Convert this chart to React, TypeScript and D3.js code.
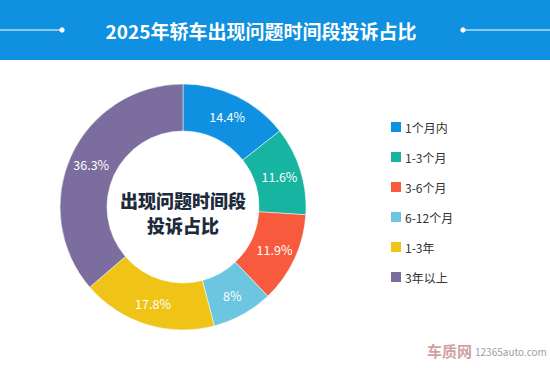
import { useEffect, useRef } from "react"
import * as d3 from "d3"

const categories = ["1个月内", "1-3个月", "3-6个月", "6-12个月", "1-3年", "3年以上"]
const values = [14.4, 11.6, 11.9, 8, 17.8, 36.3]
const colors = ["#0f90e0", "#16b4a1", "#f85a3e", "#6cc6df", "#efc417", "#7b6e9e"]

const TITLE = "2025年轿车出现问题时间段投诉占比"
const centerLines = ["出现问题时间段", "投诉占比"]

const W = 550
const H = 368
const FONT = "'Noto Sans CJK SC', 'Noto Sans', sans-serif"

export default function App() {
  const svgRef = useRef<SVGSVGElement>(null)

  useEffect(() => {
    document.body.style.margin = "0"
    if (!svgRef.current) return
    const svg = d3.select(svgRef.current)
    svg.selectAll("*").remove()

    svg.append("rect").attr("width", W).attr("height", H).attr("fill", "#fff")

    // header bar
    svg.append("rect").attr("width", W).attr("height", 60).attr("fill", "#0f90e0")
    svg.append("text")
      .attr("x", 261).attr("y", 30)
      .attr("text-anchor", "middle").attr("dominant-baseline", "central")
      .attr("font-family", FONT).attr("font-weight", 700).attr("font-size", 19)
      .attr("fill", "#fff").text(TITLE)
    const deco = svg.append("g").attr("stroke", "#fff").attr("fill", "#fff")
    deco.append("line").attr("x1", 0).attr("x2", 62).attr("y1", 30).attr("y2", 30).attr("stroke-width", 1)
    deco.append("circle").attr("cx", 62).attr("cy", 30).attr("r", 2.2)
    deco.append("line").attr("x1", 463).attr("x2", W).attr("y1", 30).attr("y2", 30).attr("stroke-width", 1)
    deco.append("circle").attr("cx", 463).attr("cy", 30).attr("r", 2.2)

    // donut
    const cx = 183, cy = 207, outer = 123, inner = 76
    const data = categories.map((c, i) => ({ name: c, value: values[i], color: colors[i] }))
    type D = (typeof data)[number]
    const pie = d3.pie<D>().value((d) => d.value).sort(null)
    const arc = d3.arc<d3.PieArcDatum<D>>().innerRadius(inner).outerRadius(outer)
    const labelArc = d3.arc<d3.PieArcDatum<D>>().innerRadius(101).outerRadius(101)
    const g = svg.append("g").attr("transform", `translate(${cx},${cy})`)
    const arcs = pie(data)
    g.selectAll("path").data(arcs).join("path")
      .attr("d", arc)
      .attr("fill", (d) => d.data.color)
      .attr("stroke", "#fff").attr("stroke-width", 0.5)
    g.selectAll("text.pct").data(arcs).join("text")
      .attr("class", "pct")
      .attr("transform", (d) => `translate(${labelArc.centroid(d)})`)
      .attr("text-anchor", "middle").attr("dominant-baseline", "central")
      .attr("font-family", FONT).attr("font-size", 12.5).attr("fill", "#fff")
      .text((d) => `${d.data.value}%`)

    g.selectAll("text.center").data(centerLines).join("text")
      .attr("class", "center")
      .attr("x", 0).attr("y", (_, i) => -7 + i * 25)
      .attr("text-anchor", "middle").attr("dominant-baseline", "central")
      .attr("font-family", FONT).attr("font-weight", 900).attr("font-size", 18)
      .attr("fill", "#1e2b3c")
      .text((d) => d)

    // legend
    const ly = d3.scaleLinear().domain([0, categories.length - 1]).range([127, 277])
    const lg = svg.append("g")
    const items = lg.selectAll("g").data(data).join("g")
      .attr("transform", (_, i) => `translate(391,${ly(i)})`)
    items.append("rect").attr("x", 0).attr("y", -5).attr("width", 10).attr("height", 10).attr("fill", (d) => d.color)
    items.append("text")
      .attr("x", 14).attr("y", 0).attr("dominant-baseline", "central")
      .attr("font-family", FONT).attr("font-size", 12).attr("fill", "#333")
      .text((d) => d.name)

    // watermark
    svg.append("text")
      .attr("x", 472).attr("y", 357)
      .attr("text-anchor", "end")
      .attr("font-family", FONT).attr("font-weight", 700).attr("font-size", 15)
      .attr("fill", "#a04848").attr("opacity", 0.5).text("车质网")
    svg.append("text")
      .attr("x", 475).attr("y", 356)
      .attr("font-family", FONT).attr("font-size", 10)
      .attr("fill", "#888").attr("opacity", 0.8).text("12365auto.com")
  }, [])

  return (
    <div style={{ position: "absolute", left: 0, top: 0 }}>
      <svg ref={svgRef} width={W} height={H} style={{ display: "block" }} />
    </div>
  )
}
